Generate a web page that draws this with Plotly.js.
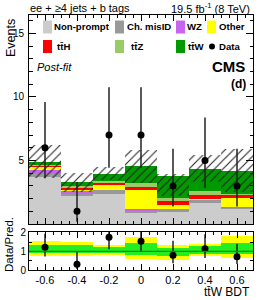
<!DOCTYPE html>
<html><head><meta charset="utf-8">
<script src="https://cdn.plot.ly/plotly-3.0.1.min.js"></script>
<style>body{margin:0;background:#fff}#c{width:266px;height:300px}</style>
</head><body><div id="c"></div>
<script>
// ---- data ----
const binCenters = [-0.6, -0.4, -0.2, 0, 0.2, 0.4, 0.6];
const tickLabels = ["-0.6", "-0.4", "-0.2", "0", "0.2", "0.4", "0.6"];
const nonPrompt = [3.69, 2.17, 2.35, 0.88, 0.93, 1.65, 1.20];
const chMisID   = [0.27, 0.21, 0.29, 0.15, 0.27, 0.23, 0.05];
const wz        = [0.31, 0.21, 0.02, 0.17, 0.02, 0.02, 0.06];
const other     = [0.18, 0.11, 0.38, 1.50, 0.24, 0.07, 0.70];
const ttH       = [0.10, 0.12, 0.15, 0.25, 0.32, 0.30, 0.24];
const ttZ       = [0.08, 0.14, 0.20, 0.27, 0.27, 0.31, 0.13];
const ttW       = [0.27, 0.31, 0.57, 1.31, 1.70, 1.77, 1.82];
const uncHi     = [6.20, 4.00, 4.45, 5.80, 3.95, 5.40, 5.90];
const uncLo     = [3.60, 2.55, 3.50, 3.25, 2.20, 3.30, 2.50];
const dataCounts = [6, 1, 7, 7, 3, 5, 3];
const dataErrUp  = [3.60, 2.30, 3.77, 3.77, 2.92, 3.38, 2.92];
const dataErrDn  = [2.40, 0.83, 2.58, 2.58, 1.63, 2.16, 1.63];
const ratio2sLo = [0.73, 0.78, 0.82, 0.60, 0.55, 0.73, 0.64];
const ratio2sHi = [1.58, 1.49, 1.36, 1.78, 1.36, 1.42, 1.82];
const ratio1sLo = [0.91, 0.91, 0.91, 0.82, 0.73, 0.87, 0.87];
const ratio1sHi = [1.36, 1.33, 1.24, 1.45, 1.18, 1.27, 1.45];

const procNames  = ["Non-prompt", "Ch. misID", "WZ", "Other", "tt\u0304H", "tt\u0304Z", "tt\u0304W"];
const procValues = [nonPrompt, chMisID, wz, other, ttH, ttZ, ttW];
const procColors = ["#cccccc", "#999999", "#c864f0", "#ffff00", "#ff0000", "#99cc66", "#009900"];

// ---- traces ----
const W = binCenters.map(() => 0.2);
const traces = [];
let cum = binCenters.map(() => 0);
procValues.forEach((vals, i) => {
  traces.push({type: 'bar', x: binCenters, y: vals, base: cum.slice(), width: W,
    marker: {color: procColors[i], line: {width: 0}}, xaxis: 'x', yaxis: 'y',
    hoverinfo: 'skip', showlegend: false});
  cum = cum.map((c, k) => c + vals[k]);
});
const total = cum;
traces.push({type: 'bar', x: binCenters, y: uncHi.map((h, k) => h - uncLo[k]), base: uncLo, width: W,
  marker: {color: 'rgba(0,0,0,0)', line: {width: 0},
    pattern: {shape: '/', fgcolor: '#222', bgcolor: 'rgba(0,0,0,0)', size: 6, solidity: 0.18}},
  xaxis: 'x', yaxis: 'y', showlegend: false, hoverinfo: 'skip'});
traces.push({type: 'scatter', mode: 'markers', x: binCenters, y: dataCounts,
  marker: {color: '#000', size: 7},
  error_y: {type: 'data', symmetric: false, array: dataErrUp, arrayminus: dataErrDn, width: 0, thickness: 1.5, color: '#222'},
  xaxis: 'x', yaxis: 'y', showlegend: false});
// ratio
traces.push({type: 'bar', x: binCenters, y: ratio2sHi.map((h, k) => h - ratio2sLo[k]), base: ratio2sLo, width: W,
  marker: {color: '#ffff00', line: {width: 0}}, xaxis: 'x2', yaxis: 'y2', showlegend: false, hoverinfo: 'skip'});
traces.push({type: 'bar', x: binCenters, y: ratio1sHi.map((h, k) => h - ratio1sLo[k]), base: ratio1sLo, width: W,
  marker: {color: '#22ee22', line: {width: 0}}, xaxis: 'x2', yaxis: 'y2', showlegend: false, hoverinfo: 'skip'});
traces.push({type: 'scatter', mode: 'markers', x: binCenters, y: dataCounts.map((d, k) => d / total[k]),
  marker: {color: '#000', size: 7},
  error_y: {type: 'data', symmetric: false, array: dataErrUp.map((e, k) => e / total[k]),
    arrayminus: dataErrDn.map((e, k) => e / total[k]), width: 0, thickness: 1.5, color: '#222'},
  xaxis: 'x2', yaxis: 'y2', showlegend: false});

// ---- layout helpers (pixel -> paper; paper = whole 266x300 image) ----
const WPX = 266, HPX = 300;
const L = 29, R = 253;
const px = x => x / WPX;
const py = y => 1 - y / HPX;
const FONT = 'Liberation Sans, Arial, sans-serif';

const shapes = [
  {type: 'line', xref: 'x2 domain', x0: 0, x1: 1, yref: 'y2', y0: 1, y1: 1, line: {color: '#009900', width: 1.2}}
];
const annotations = [];
function txt(t, x, y, size, opts) {
  annotations.push(Object.assign({text: t, xref: 'paper', yref: 'paper', x: px(x), y: py(y),
    showarrow: false, xanchor: 'center', yanchor: 'middle', borderpad: 0,
    font: {family: FONT, size: size, color: '#000'}}, opts || {}));
}
// legend: box left x, label center x
const legBoxX = [43, 115, 176, 207, 43, 115, 176];
const legLblX = [81.5, 148.5, 194, 231.5, 63, 137, 196];
const legRowY = [27, 27, 27, 27, 46.5, 46.5, 46.5];
procNames.forEach((n, i) => {
  const x0 = legBoxX[i], yc = legRowY[i];
  shapes.push({type: 'rect', xref: 'paper', yref: 'paper', x0: px(x0), x1: px(x0 + 9), y0: py(yc + 6.5), y1: py(yc - 6.5),
    fillcolor: procColors[i], line: {width: 0}});
  txt('<b>' + n + '</b>', legLblX[i], yc, 9.6);
});
shapes.push({type: 'circle', xref: 'paper', yref: 'paper', x0: px(209), x1: px(215), y0: py(49.5), y1: py(43.5),
  fillcolor: '#000', line: {width: 0}});
txt('<b>Data</b>', 229.5, 46.5, 9.6);

txt('ee + \u22654 jets + b tags', 79.5, 7.5, 11);
txt('19.5 fb<sup>-1</sup> (8 TeV)', 210, 7.5, 11);
txt('<i>Post-fit</i>', 54.5, 67, 11);
txt('<b>CMS</b>', 228, 66.5, 15);
txt('<b>(d)</b>', 238.5, 83.5, 12);
txt('Events', 11, 38, 12.5, {textangle: -90});
txt('Data/Pred.', 9, 245, 11.5, {textangle: -90});
txt('tt\u0304W BDT', 227, 292, 12);

const axBase = {showline: true, linecolor: '#000', linewidth: 1, mirror: 'allticks', ticks: 'inside',
  tickcolor: '#000', showgrid: false, zeroline: false, tickfont: {family: FONT, size: 10, color: '#000'}};
const xDom = [px(L), px(R)];

const layout = {
  width: WPX, height: HPX, margin: {l: 0, r: 0, t: 0, b: 0, pad: 0},
  paper_bgcolor: '#fff', plot_bgcolor: '#fff', barmode: 'overlay', bargap: 0, showlegend: false,
  font: {family: FONT},
  xaxis: Object.assign({}, axBase, {domain: xDom, anchor: 'y', range: [-0.7, 0.7], tickmode: 'array',
    tickvals: binCenters, showticklabels: false, ticklen: 6,
    minor: {tickmode: 'linear', tick0: 0, dtick: 0.05, ticks: 'inside', ticklen: 3, tickcolor: '#000'}}),
  yaxis: Object.assign({}, axBase, {domain: [py(224), py(15)], anchor: 'x', range: [0, 16.45], tickmode: 'array',
    tickvals: [5, 10, 15], ticklen: 7, ticklabelstandoff: 2,
    minor: {tickmode: 'linear', tick0: 0, dtick: 1, ticks: 'inside', ticklen: 3.5, tickcolor: '#000'}}),
  xaxis2: Object.assign({}, axBase, {domain: xDom, anchor: 'y2', range: [-0.7, 0.7], tickmode: 'array',
    tickvals: binCenters, ticktext: tickLabels, ticklen: 6,
    tickfont: {family: FONT, size: 11, color: '#000'},
    minor: {tickmode: 'linear', tick0: 0, dtick: 0.05, ticks: 'inside', ticklen: 3, tickcolor: '#000'}}),
  yaxis2: Object.assign({}, axBase, {domain: [py(270), py(232)], anchor: 'x2', range: [0, 2.05], tickmode: 'array',
    tickvals: [0, 1, 2], ticklen: 6,
    minor: {tickmode: 'linear', tick0: 0, dtick: 0.5, ticks: 'inside', ticklen: 3, tickcolor: '#000'}}),
  shapes: shapes, annotations: annotations
};
Plotly.newPlot('c', traces, layout, {staticPlot: true, displayModeBar: false});
</script></body></html>
